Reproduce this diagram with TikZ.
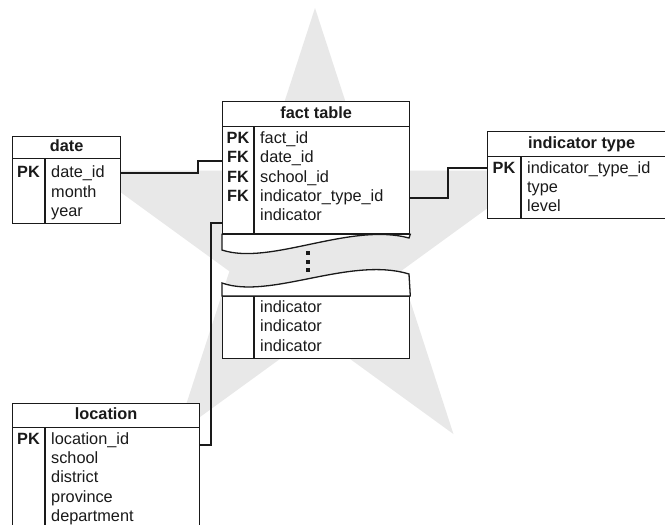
\documentclass[tikz,border=0pt]{standalone}
\usepackage{fontspec}
\setmainfont{Liberation Sans}
\definecolor{starfill}{HTML}{E8E8E8}
\definecolor{ink}{HTML}{1A1A1A}
\begin{document}
\begin{tikzpicture}[x=1pt,y=-1pt,
  inkline/.style={line width=1.3pt, draw=ink, line join=miter},
  box/.style={inkline, fill=white, rectangle, inner sep=0pt, anchor=north west},
  title/.style={box, font=\bfseries\fontsize{16.3}{19}\selectfont, text=ink,
    text height=11.5pt, text depth=3.5pt},
  keytxt/.style={anchor=base, inner sep=0pt, text=ink,
    font=\bfseries\fontsize{16.3}{19}\selectfont},
  fld/.style={anchor=base west, inner sep=0pt, text=ink,
    font=\fontsize{16.3}{19}\selectfont},
  link/.style={inkline},
  gapdot/.style={rectangle, fill=ink, minimum size=4pt, inner sep=0pt}
]
\useasboundingbox (0,0) rectangle (665,525);
\fill[white] (0,0) rectangle (665,525);

% background star
\begin{scope}[shift={(315,243.5)}]
  \fill[starfill] (-90:235.5) -- (-54:90) -- (-18:235.5) -- (18:90) -- (54:235.5)
    -- (90:90) -- (126:235.5) -- (162:90) -- (198:235.5) -- (234:90) -- cycle;
\end{scope}

% ---- date ----
\node[title, minimum width=108pt, minimum height=22pt] (dHead) at (12,136) {date};
\node[box, minimum width=108pt, minimum height=65pt] (dBody) at (12,158) {};
\draw[inkline] ([xshift=33pt]dBody.north west) -- ([xshift=33pt]dBody.south west);
\node[keytxt] (dPK) at (28.5,177.5) {PK};
\node[fld] (dF1) at (51,177.5) {date\_id};
\node[fld] (dF2) at (51,197) {month};
\node[fld] (dF3) at (51,216.5) {year};

% ---- fact table (upper part) ----
\node[title, minimum width=187pt, minimum height=25pt] (fHead) at (222,101) {fact table};
\node[box, minimum width=187pt, minimum height=107pt] (fBody) at (222,126) {};
\draw[inkline] ([xshift=32pt]fBody.north west) -- ([xshift=32pt]fBody.south west);
\node[keytxt] (fPK) at (238,143.3) {PK};
\node[keytxt] (fFK1) at (238,162.6) {FK};
\node[keytxt] (fFK2) at (238,182) {FK};
\node[keytxt] (fFK3) at (238,201.3) {FK};
\node[fld] (fF1) at (260,143.3) {fact\_id};
\node[fld] (fF2) at (260,162.6) {date\_id};
\node[fld] (fF3) at (260,182) {school\_id};
\node[fld] (fF4) at (260,201.3) {indicator\_type\_id};
\node[fld] (fF5) at (260,220.7) {indicator};
% torn lower edge of the upper part
\draw[inkline, fill=white] (fBody.south west) -- (222,250)
  .. controls (270,266) and (350,222) .. (409,238) -- (fBody.south east) -- cycle;

% gap marker
\node[gapdot] (g1) at (308,253) {};
\node[gapdot] (g2) at (308,261.5) {};
\node[gapdot] (g3) at (308,270) {};

% ---- fact table (lower part) ----
\node[box, minimum width=187pt, minimum height=62pt] (fLow) at (222,296) {};
\draw[inkline, fill=white] (fLow.north west) -- (222,283)
  .. controls (270,300) and (350,256) .. (409,274) -- (fLow.north east) -- cycle;
\draw[inkline] ([xshift=32pt]fLow.north west) -- ([xshift=32pt]fLow.south west);
\node[fld] (fL1) at (260,312.3) {indicator};
\node[fld] (fL2) at (260,331.7) {indicator};
\node[fld] (fL3) at (260,351) {indicator};

% ---- indicator type ----
\node[title, minimum width=188pt, minimum height=25pt] (iHead) at (487,131) {indicator type};
\node[box, minimum width=188pt, minimum height=62pt] (iBody) at (487,156) {};
\draw[inkline] ([xshift=34pt]iBody.north west) -- ([xshift=34pt]iBody.south west);
\node[keytxt] (iPK) at (504,173.3) {PK};
\node[fld] (iF1) at (527,173.3) {indicator\_type\_id};
\node[fld] (iF2) at (527,192.5) {type};
\node[fld] (iF3) at (527,211) {level};

% ---- location ----
\node[title, minimum width=187pt, minimum height=24pt] (lHead) at (12,403) {location};
\node[box, minimum width=187pt, minimum height=130pt] (lBody) at (12,427) {};
\draw[inkline] ([xshift=33pt]lBody.north west) -- ([xshift=33pt]lBody.south west);
\node[keytxt] (lPK) at (28.5,444) {PK};
\node[fld] (lF1) at (51,444) {location\_id};
\node[fld] (lF2) at (51,463.4) {school};
\node[fld] (lF3) at (51,482.8) {district};
\node[fld] (lF4) at (51,502.2) {province};
\node[fld] (lF5) at (51,521.6) {department};

% ---- relationships ----
\draw[link] (dBody.east |- 0,173) -| (198,161) -- (fBody.west |- 0,161);
\draw[link] (fBody.east |- 0,198) -| (448,168) -- (iBody.west |- 0,168);
\draw[link] (fBody.west |- 0,223) -| (211,445) -- (lBody.east |- 0,445);
\end{tikzpicture}
\end{document}
